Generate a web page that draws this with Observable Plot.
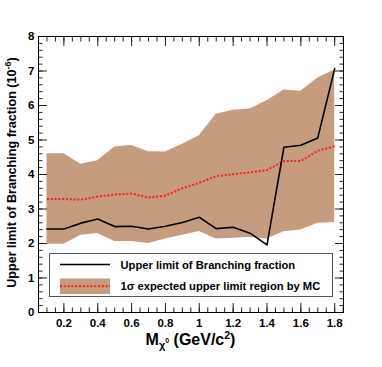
<!DOCTYPE html>
<html>
<head>
<meta charset="utf-8">
<script src="https://cdn.jsdelivr.net/npm/d3@7"></script>
<script src="https://cdn.jsdelivr.net/npm/@observablehq/plot@0.6"></script>
<style>
  html, body { margin: 0; padding: 0; background: #fff; }
  #chart svg { font-family: "Liberation Sans", Arial, sans-serif; font-weight: bold; }
</style>
</head>
<body>
<div id="chart"></div>
<script>
// Mass points (GeV/c^2)
const mass = [0.1, 0.2, 0.3, 0.4, 0.5, 0.6, 0.7, 0.8, 0.9, 1.0, 1.1, 1.2, 1.3, 1.4, 1.5, 1.6, 1.7, 1.8];
// Observed upper limit of branching fraction (10^-6)
const upperLimit = [2.42, 2.42, 2.59, 2.71, 2.49, 2.50, 2.42, 2.50, 2.61, 2.76, 2.43, 2.47, 2.30, 1.96, 4.79, 4.85, 5.06, 7.07];
// Expected (median) upper limit by MC
const expectedMC = [3.29, 3.29, 3.27, 3.36, 3.42, 3.45, 3.33, 3.39, 3.60, 3.76, 3.95, 4.01, 4.06, 4.13, 4.39, 4.39, 4.69, 4.82];
// 1 sigma band
const bandLow = [1.98, 1.98, 2.24, 2.29, 2.06, 2.06, 2.00, 2.13, 2.24, 2.35, 2.13, 2.15, 2.18, 2.13, 2.34, 2.39, 2.59, 2.61];
const bandHigh = [4.60, 4.60, 4.30, 4.40, 4.80, 4.84, 4.66, 4.65, 4.88, 5.12, 5.75, 5.86, 5.90, 6.14, 6.45, 6.41, 6.80, 7.03];

// Tick values
const xMajor = [0.2, 0.4, 0.6, 0.8, 1.0, 1.2, 1.4, 1.6, 1.8];
const xMinor = d3.range(1, 38).map(i => i * 0.05);
const yMajor = [0, 1, 2, 3, 4, 5, 6, 7, 8];
const yMinor = d3.range(0, 41).map(i => i * 0.2);

const legendLabels = ["Upper limit of Branching fraction", "1\u03c3 expected upper limit region by MC"];

const bandColor = "#c69c7e";
const redColor = "#ff1a1a";
const data = mass.map((m, i) => ({m, obs: upperLimit[i], exp: expectedMC[i], lo: bandLow[i], hi: bandHigh[i]}));

const fmt = d => String(+d.toFixed(1));
const noText = () => "";
const tickStroke = "#222";

const plot = Plot.plot({
  width: 382,
  height: 367,
  marginLeft: 38,
  marginRight: 39,
  marginTop: 36,
  marginBottom: 55,
  style: {fontSize: "11.5px", fontFamily: "Liberation Sans, Arial, sans-serif", fontWeight: "bold", color: "black", background: "white"},
  x: {domain: [0.05, 1.852]},
  y: {domain: [0, 8]},
  marks: [
    Plot.areaY(data, {x: "m", y1: "lo", y2: "hi", fill: bandColor}),
    Plot.lineY(data, {x: "m", y: "exp", stroke: redColor, strokeWidth: 2, strokeDasharray: "2,1.8", strokeLinecap: "butt"}),
    Plot.lineY(data, {x: "m", y: "obs", stroke: "black", strokeWidth: 1.6}),
    // inward ticks (outward ticks shifted inside the frame)
    Plot.axisX({anchor: "bottom", ticks: xMajor, tickSize: 9, dy: -9, tickFormat: noText, label: null, stroke: tickStroke}),
    Plot.axisX({anchor: "bottom", ticks: xMinor, tickSize: 4.5, dy: -4.5, tickFormat: noText, label: null, stroke: tickStroke}),
    Plot.axisX({anchor: "top", ticks: xMajor, tickSize: 9, dy: 9, tickFormat: noText, label: null, stroke: tickStroke}),
    Plot.axisX({anchor: "top", ticks: xMinor, tickSize: 4.5, dy: 4.5, tickFormat: noText, label: null, stroke: tickStroke}),
    Plot.axisY({anchor: "left", ticks: yMajor, tickSize: 9, dx: 9, tickFormat: noText, label: null, stroke: tickStroke}),
    Plot.axisY({anchor: "left", ticks: yMinor, tickSize: 4.5, dx: 4.5, tickFormat: noText, label: null, stroke: tickStroke}),
    Plot.axisY({anchor: "right", ticks: yMajor, tickSize: 9, dx: -9, tickFormat: noText, label: null, stroke: tickStroke}),
    Plot.axisY({anchor: "right", ticks: yMinor, tickSize: 4.5, dx: -4.5, tickFormat: noText, label: null, stroke: tickStroke}),
    // tick labels
    Plot.axisX({anchor: "bottom", ticks: xMajor, tickSize: 0, tickPadding: 6, tickFormat: fmt, label: null}),
    Plot.axisY({anchor: "left", ticks: yMajor, tickSize: 0, tickPadding: 4, tickFormat: fmt, label: null}),
    Plot.frame({stroke: "black", strokeWidth: 1})
  ]
});

document.getElementById("chart").appendChild(plot);

const svg = d3.select(plot);

// Legend
const lg = svg.append("g").attr("text-anchor", "start");
lg.append("rect").attr("x", 49.5).attr("y", 253.5).attr("width", 283).attr("height", 43)
  .attr("fill", "white").attr("stroke", "#555").attr("stroke-width", 1);
lg.append("line").attr("x1", 60).attr("x2", 110).attr("y1", 264.5).attr("y2", 264.5)
  .attr("stroke", "black").attr("stroke-width", 1.6);
lg.append("rect").attr("x", 60).attr("y", 278.5).attr("width", 50).attr("height", 15.5).attr("fill", bandColor);
lg.append("line").attr("x1", 60).attr("x2", 110).attr("y1", 286.3).attr("y2", 286.3)
  .attr("stroke", redColor).attr("stroke-width", 2).attr("stroke-dasharray", "2,1.8");
lg.append("text").attr("x", 120.5).attr("y", 268.5).attr("text-anchor", "start").attr("font-size", "11.2px").attr("font-weight", "bold")
  .text(legendLabels[0]);
lg.append("text").attr("x", 120.5).attr("y", 290.3).attr("text-anchor", "start").attr("font-size", "11.2px").attr("font-weight", "bold")
  .text(legendLabels[1]);

// X label: M_{chi^0} (GeV/c^2)
const xl = svg.append("text").attr("x", 190.5).attr("y", 345).attr("text-anchor", "middle")
  .attr("font-size", "16px").attr("font-weight", "bold");
xl.append("tspan").text("M");
xl.append("tspan").attr("font-size", "11px").attr("dy", 4).text("\u03c7");
xl.append("tspan").attr("font-size", "7px").attr("dy", -6).text("0");
xl.append("tspan").attr("dy", 2).text(" (GeV/c");
xl.append("tspan").attr("font-size", "10.5px").attr("dy", -6.5).text("2");
xl.append("tspan").attr("dy", 6.5).text(")");

// Y label
const yl = svg.append("text").attr("transform", "translate(16,172.5) rotate(-90)").attr("text-anchor", "middle")
  .attr("font-size", "12.6px").attr("font-weight", "bold");
yl.append("tspan").text("Upper limit of Branching fraction (10");
yl.append("tspan").attr("font-size", "9px").attr("dy", -5).text("-6");
yl.append("tspan").attr("dy", 5).text(")");
</script>
</body>
</html>
